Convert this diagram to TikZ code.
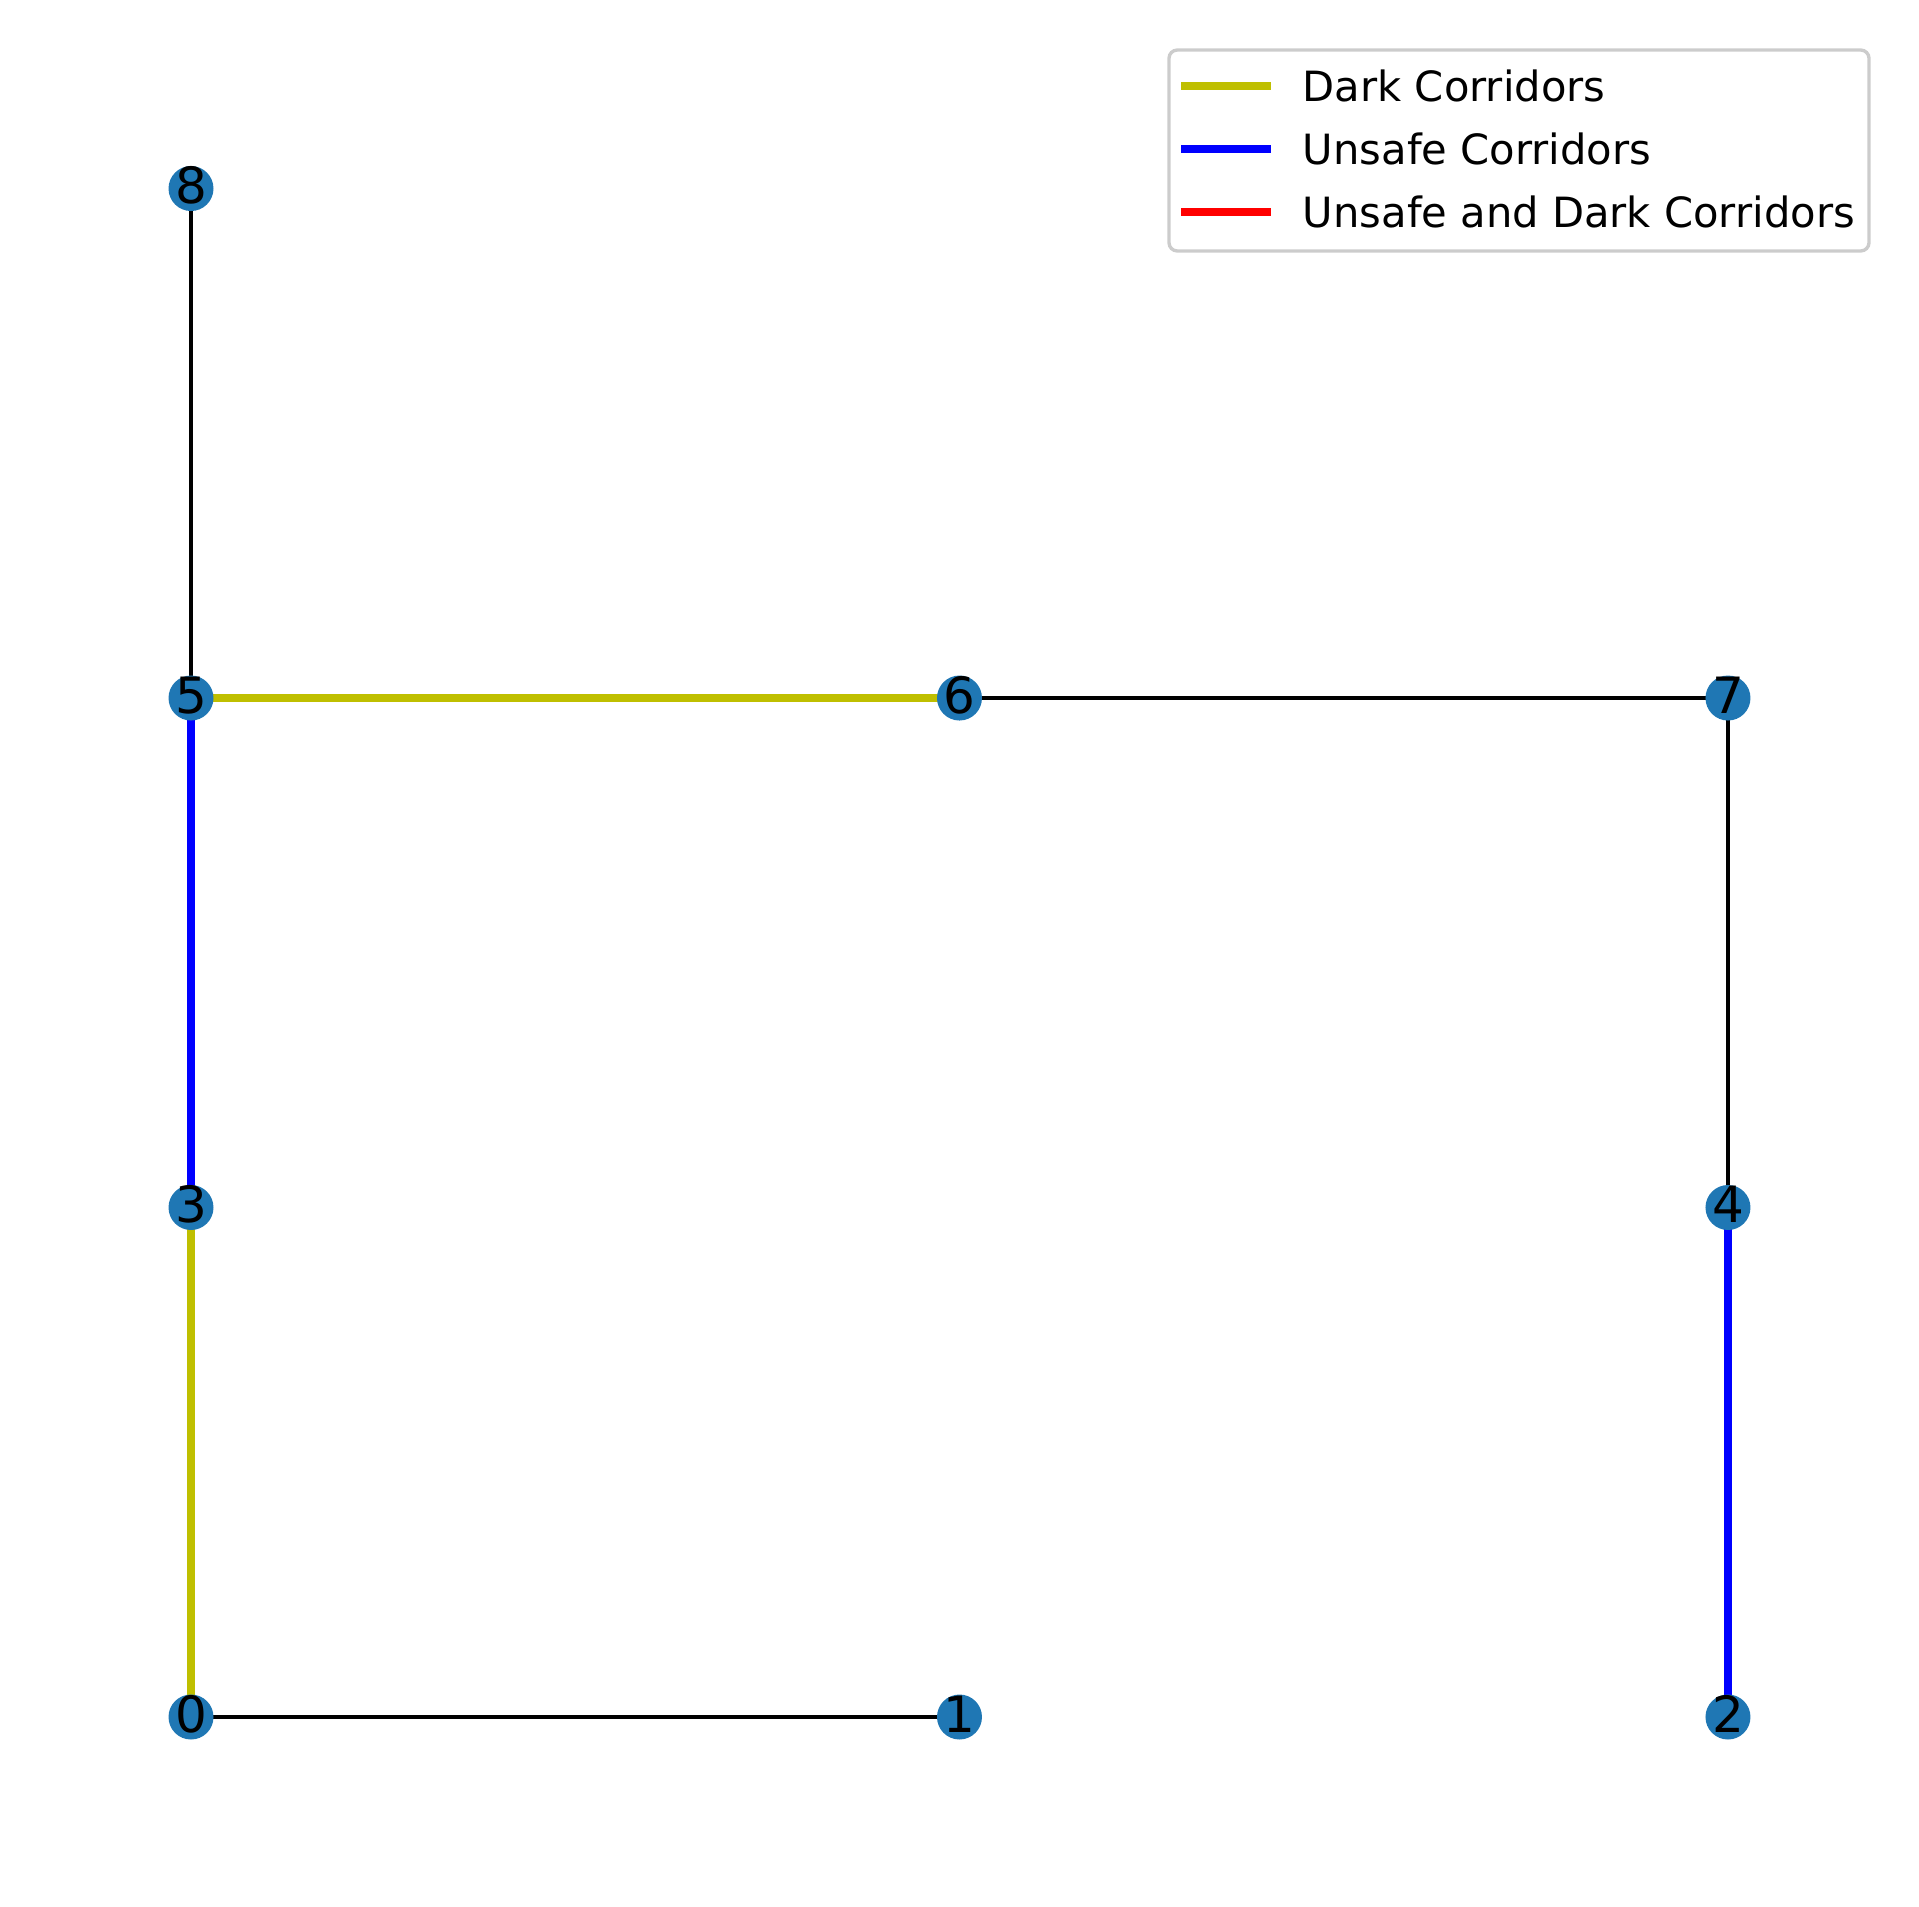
\documentclass[tikz,border=0pt]{standalone}
\usepackage{fontspec}
\setmainfont{DejaVu Sans}
\usetikzlibrary{positioning,backgrounds}
\definecolor{roomblue}{HTML}{1F77B4}
\definecolor{darkyellow}{rgb}{0.75,0.75,0}

\begin{document}
\begin{tikzpicture}[x=0.24pt, y=-0.24pt, on grid, node distance=122.28pt and 184.44pt,
    room/.style={circle, fill=roomblue, minimum size=10.8pt, inner sep=0pt,
      font=\fontsize{12}{14}\selectfont, text height=0.73em, text depth=0pt},
    plain/.style={line width=1pt, black},
    dark/.style={line width=2pt, darkyellow},
    unsafe/.style={line width=2pt, blue},
    both/.style={line width=2pt, red},
    key/.style={anchor=west, inner sep=0pt, font=\fontsize{10}{12}\selectfont}]
    \useasboundingbox (0,0) rectangle (1919,1907);

    % rooms
    \node [room] (n0) at (191,1717) {0};
    \node [room, right=of n0] (n1) {1};
    \node [room, right=of n1] (n2) {2};
    \node [room, above=of n0] (n3) {3};
    \node [room, above=of n2] (n4) {4};
    \node [room, above=of n3] (n5) {5};
    \node [room, right=of n5] (n6) {6};
    \node [room, right=of n6] (n7) {7};
    \node [room, above=of n5] (n8) {8};

    % corridors
    \begin{pgfonlayer}{background}
      \draw [plain] (n0.center) -- (n1.center);
      \draw [dark] (n0.center) -- (n3.center);
      \draw [unsafe] (n3.center) -- (n5.center);
      \draw [plain] (n5.center) -- (n8.center);
      \draw [dark] (n5.center) -- (n6.center);
      \draw [plain] (n6.center) -- (n7.center);
      \draw [plain] (n7.center) -- (n4.center);
      \draw [unsafe] (n4.center) -- (n2.center);
    \end{pgfonlayer}

    % legend
    \draw [black!20, fill=white, fill opacity=0.8, line width=0.8pt, rounded corners=2pt]
      (1169,50) rectangle (1869,251);
    \draw [dark] (1181,86) -- (1271,86);
    \node [key] (kdark) at (1302,86) {Dark Corridors};
    \draw [unsafe] (1181,149) -- (1271,149);
    \node [key] (kunsafe) at (1302,149) {Unsafe Corridors};
    \draw [both] (1181,212) -- (1271,212);
    \node [key] (kboth) at (1302,212) {Unsafe and Dark Corridors};
\end{tikzpicture}
\end{document}
